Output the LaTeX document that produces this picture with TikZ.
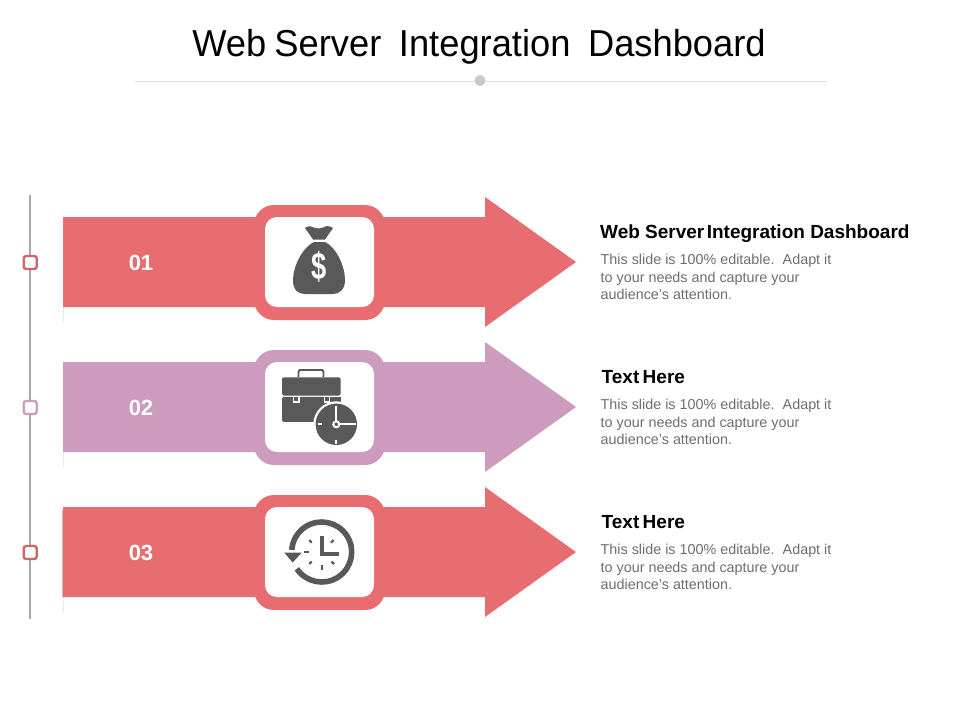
\documentclass[tikz,border=0pt]{standalone}
\usepackage{fontspec}
\setmainfont{Liberation Sans}
\newfontfamily\titlefont[FakeStretch=0.968]{Liberation Sans}
\definecolor{redarrow}{HTML}{E86D70}
\definecolor{mauve}{HTML}{CC9BBD}
\definecolor{icon}{HTML}{595959}
\definecolor{bodytxt}{HTML}{6E6E6E}
\definecolor{rail}{HTML}{A6A6A6}
\definecolor{rule}{HTML}{DEDEDE}
\tikzset{
  titletxt/.style={font=\titlefont\fontsize{37.5}{44}\selectfont,text=black,inner sep=0pt,anchor=base},
  headtxt/.style={font=\fontsize{19}{22}\selectfont\bfseries,text=black,inner sep=0pt,anchor=base west},
  para/.style={font=\fontsize{14.35}{17.5}\selectfont,text=bodytxt,inner sep=0pt,anchor=north west,align=left},
  numtxt/.style={font=\fontsize{22}{26}\selectfont\bfseries,text=white,inner sep=0pt},
  marker/.style={draw=#1,line width=2.4pt,fill=white,rounded corners=2.5pt},
  wtick/.style={draw=white,line width=2pt},
  dtick/.style={draw=icon,line width=2.2pt},
}
\newcommand{\bannerarrow}[2]{%
  \fill[rule!70] (62.5,#1+45) rectangle (64,#1+60);
  \fill[#2] (63,#1-45) -- (485,#1-45) -- (485,#1-65) -- (576,#1) -- (485,#1+65) -- (485,#1+45) -- (63,#1+45) -- cycle;
  \fill[#2,rounded corners=20pt] (254,#1-57) rectangle (385,#1+58);
  \fill[white,rounded corners=12pt] (265,#1-45) rectangle (374,#1+45);
}
\begin{document}
\begin{tikzpicture}[x=1pt,y=-1pt]
\useasboundingbox (0,0) rectangle (960,720);
\fill[white] (0,0) rectangle (960,720);
% title
\node[titletxt] (title) at (479,56.7) {Web\hspace{-0.05em} Server\hspace{0.2em} Integration\hspace{0.2em} Dashboard};
\coordinate (ruleL) at (135,81);
\coordinate (ruleR) at (827,81);
\draw[rule,line width=1pt] (ruleL) -- (ruleR);
\fill[rule!90!black] (480,80.5) circle (5.5);
% rail
\coordinate (railT) at (30,195);
\coordinate (railB) at (30,619);
\draw[rail,line width=1.6pt] (railT) -- (railB);
\draw[marker=redarrow!90!black] (23.7,256) rectangle (36.7,269);
\draw[marker=mauve] (23.7,401) rectangle (36.7,414);
\draw[marker=redarrow!90!black] (23.7,546) rectangle (36.7,559);
% arrows
\bannerarrow{262}{redarrow}
\bannerarrow{407}{mauve}
\bannerarrow{552}{redarrow}
\fill[rail!70] (61.8,510) rectangle (63,597);
% numbers
\node[numtxt] (n1) at (141,263) {01};
\node[numtxt] (n2) at (141,408) {02};
\node[numtxt] (n3) at (141,553) {03};
% money bag
\fill[icon] (305,228) .. controls (308,226) and (309,226) .. (311,226.5) .. controls (314,227.5) and (316,228.5) .. (318.5,228.5) .. controls (321,228.5) and (324,227) .. (327,226) .. controls (329,226) and (331,227) .. (333,228) -- (325,239.5) -- (313,239.5) -- cycle;
\fill[icon] (314,242) -- (325,242) .. controls (336,247) and (345,266) .. (345,280) .. controls (345,290) and (339,294) .. (333,294) -- (305,294) .. controls (298,294) and (293,290) .. (293,280) .. controls (293,266) and (303,247) .. (314,242) -- cycle;
\node[font=\fontsize{38}{40}\selectfont\bfseries,text=white,inner sep=0pt,xscale=0.72] (dollar) at (319,267) {\$};
% briefcase
\draw[icon,line width=1.9pt] (298.5,377) -- (298.5,372) -- (299.5,370) -- (322.5,370) -- (323.5,372) -- (323.5,377);
\fill[icon,rounded corners=2pt] (282,395.5) -- (282,377.3) -- (340.7,377.3) -- (340.7,395.5) -- cycle;
\fill[icon,rounded corners=1.5pt] (282,396.8) -- (282,421.8) -- (325,421.8) -- (325,396.8) -- cycle;
\fill[icon] (325,396.8) rectangle (340.7,412);
\fill[white] (292.8,395.5) rectangle (299.5,402.5);
\fill[white] (323.5,395.5) rectangle (330,402.5);
\fill[icon] (294.4,396.8) rectangle (298,400.8);
\fill[icon] (325,396.8) rectangle (328.6,400.8);
\fill[white] (336.3,424.3) circle (23);
\fill[icon] (336.3,424.3) circle (20.7);
\draw[wtick] (336.3,405.5) -- (336.3,421);
\draw[wtick] (340,424.3) -- (355.5,424.3);
\draw[wtick] (317.5,424.3) -- (321.5,424.3);
\draw[wtick] (336.3,439.5) -- (336.3,443.5);
\draw[white,line width=2pt] (336.3,424.3) circle (3);
% clock with back arrow
\draw[icon,line width=5.6pt] (321.7,552) ++(146:30) arc[start angle=146,end angle=-176,radius=30];
\fill[icon] (284.3,552.7) -- (301.7,552.7) -- (292.7,562.5) -- cycle;
\draw[icon,line width=4pt,line join=miter] (321.7,536) -- (321.7,553.5) -- (338.5,553.5);
\draw[dtick] (309.3,540) -- (311.7,542.7);
\draw[dtick] (333.5,540) -- (331,542.7);
\draw[dtick] (304,552) -- (308.5,552);
\draw[dtick] (309.3,564) -- (311.7,561.5);
\draw[dtick] (321.7,565) -- (321.7,569.5);
\draw[dtick] (331.5,561.5) -- (334,564);
% texts
\node[headtxt] (h1) at (600,238.5) {Web Server\hspace{-0.15em} Integration Dashboard};
\node[para] (p1) at (600.5,254) {This slide is 100\% editable.\hspace{0.2em} Adapt it\\to your needs and capture your\\audience's attention.};
\node[headtxt] (h2) at (601.5,383.5) {Text\hspace{-0.1em} Here};
\node[para] (p2) at (600.5,399) {This slide is 100\% editable.\hspace{0.2em} Adapt it\\to your needs and capture your\\audience's attention.};
\node[headtxt] (h3) at (601.5,528.5) {Text\hspace{-0.1em} Here};
\node[para] (p3) at (600.5,544) {This slide is 100\% editable.\hspace{0.2em} Adapt it\\to your needs and capture your\\audience's attention.};
\end{tikzpicture}
\end{document}
